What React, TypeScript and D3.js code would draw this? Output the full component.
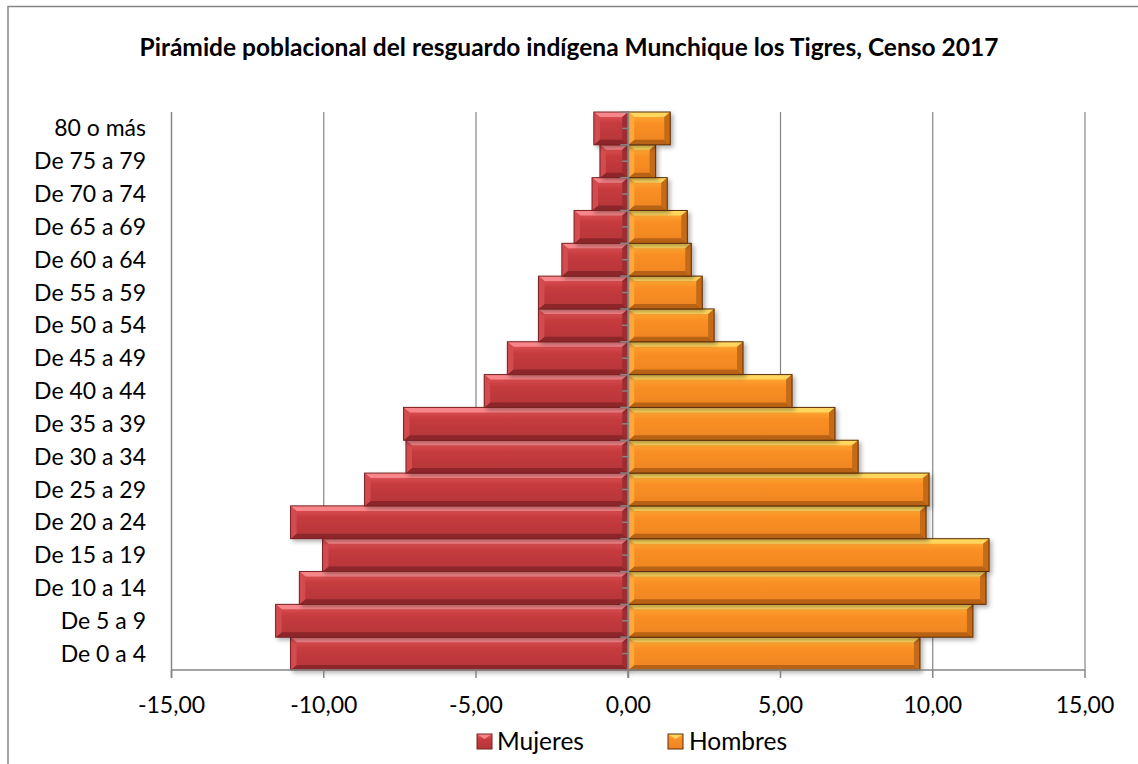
import React from "react";
import * as d3 from "d3";

const categories = [
  "De 0 a 4", "De 5 a 9", "De 10 a 14", "De 15 a 19", "De 20 a 24", "De 25 a 29",
  "De 30 a 34", "De 35 a 39", "De 40 a 44", "De 45 a 49", "De 50 a 54", "De 55 a 59",
  "De 60 a 64", "De 65 a 69", "De 70 a 74", "De 75 a 79", "80 o más",
];
const mujeres = [-11.09, -11.58, -10.8, -10.04, -11.09, -8.66, -7.3, -7.38, -4.73, -3.97, -2.95, -2.95, -2.18, -1.78, -1.19, -0.93, -1.13];
const hombres = [9.58, 11.32, 11.75, 11.85, 9.78, 9.88, 7.55, 6.79, 5.38, 3.77, 2.82, 2.43, 2.07, 1.94, 1.28, 0.9, 1.38];
const xTicks = [-15, -10, -5, 0, 5, 10, 15];
const title = "Pirámide poblacional del resguardo indígena Munchique los Tigres, Censo 2017";

const W = 1138, H = 764;
const L = 171.5, R = 1085, T = 112, B = 670;
const FONT = "Lato, 'Open Sans', sans-serif";
const AXIS = "#868686";

const palettes = {
  red: { face1: "#E4595C", face2: "#C63B3E", face3: "#B43538", top: "#F7868A", bottom: "#8C2729", left: "#D44C4F", right: "#9E2D30", stroke: "#7A2224" },
  orange: { face1: "#FFB238", face2: "#F98F25", face3: "#EE8420", top: "#FFD75E", bottom: "#B86212", left: "#FFA838", right: "#C56A15", stroke: "#5B2E0C" },
};

function Bar({ x0, x1, y0, y1, p, id }: any) {
  const bx = Math.min(6, (x1 - x0) / 2);
  const by = 5;
  const pts = (a: number[][]) => a.map((q) => q.join(",")).join(" ");
  return (
    <g filter="url(#shadow)">
      <rect x={x0} y={y0} width={x1 - x0} height={y1 - y0} fill={`url(#face-${id})`} />
      <polygon points={pts([[x0, y0], [x1, y0], [x1 - bx, y0 + by], [x0 + bx, y0 + by]])} fill={p.top} />
      <polygon points={pts([[x0, y1], [x1, y1], [x1 - bx, y1 - by], [x0 + bx, y1 - by]])} fill={p.bottom} />
      <polygon points={pts([[x0, y0], [x0 + bx, y0 + by], [x0 + bx, y1 - by], [x0, y1]])} fill={p.left} />
      <polygon points={pts([[x1, y0], [x1 - bx, y0 + by], [x1 - bx, y1 - by], [x1, y1]])} fill={p.right} />
      <rect x={x0} y={y0} width={x1 - x0} height={y1 - y0} fill="none" stroke={p.stroke} strokeWidth={1} />
    </g>
  );
}

function LegendSwatch({ x, y, p, id }: any) {
  const s = 15;
  return (
    <g>
      <rect x={x} y={y} width={s} height={s} fill={`url(#face-${id})`} />
      <polygon points={`${x},${y} ${x + s},${y} ${x + s / 2},${y + 5}`} fill={p.top} />
      <rect x={x} y={y} width={s} height={s} fill="none" stroke={p.stroke} strokeWidth={1} />
    </g>
  );
}

export default function App() {
  const x = d3.scaleLinear().domain([-15, 15]).range([L, R]);
  const y = d3.scaleBand<string>().domain([...categories].reverse()).range([T, B]).paddingInner(0).paddingOuter(0);
  const bw = y.bandwidth();
  const fmt = (v: number) => d3.format(".2f")(v).replace(".", ",").replace("−", "-");

  return (
    <svg width={W} height={H} style={{ position: "absolute", left: 0, top: 0, background: "#fff" }}>
      <defs>
        {(["red", "orange"] as const).map((k) => (
          <linearGradient key={k} id={`face-${k}`} x1="0" y1="0" x2="0" y2="1">
            <stop offset="0" stopColor={palettes[k].face1} />
            <stop offset="0.35" stopColor={palettes[k].face2} />
            <stop offset="1" stopColor={palettes[k].face3} />
          </linearGradient>
        ))}
        <filter id="shadow" x="-10%" y="-30%" width="130%" height="180%">
          <feDropShadow dx="2.5" dy="2.5" stdDeviation="2" floodColor="#000" floodOpacity="0.3" />
        </filter>
      </defs>

      <rect x={8} y={6.5} width={1200} height={800} fill="#fff" stroke={AXIS} strokeWidth={1.5} />

      <text x={W / 2} y={56} textAnchor="middle" fontFamily={FONT} fontWeight="bold" fontSize={24.5} fill="#000">
        {title}
      </text>

      {/* gridlines */}
      {xTicks.filter((t) => t !== 0 && t !== -15).map((t) => (
        <line key={t} x1={x(t)} x2={x(t)} y1={T} y2={B} stroke={AXIS} strokeWidth={1.2} />
      ))}

      {/* bars */}
      {categories.map((c, i) => {
        const y0 = y(c)!;
        return (
          <g key={c}>
            <Bar x0={x(mujeres[i])} x1={x(0)} y0={y0} y1={y0 + bw} p={palettes.red} id="red" />
            <Bar x0={x(0)} x1={x(hombres[i])} y0={y0} y1={y0 + bw} p={palettes.orange} id="orange" />
          </g>
        );
      })}

      {/* axes */}
      <line x1={L} x2={L} y1={T} y2={B + 8} stroke={AXIS} strokeWidth={1.5} />
      <line x1={L} x2={R} y1={B} y2={B} stroke={AXIS} strokeWidth={1.5} />
      {xTicks.map((t) => (
        <g key={t}>
          <line x1={x(t)} x2={x(t)} y1={B} y2={B + 8} stroke={AXIS} strokeWidth={1.5} />
          <text x={x(t)} y={713} textAnchor="middle" fontFamily={FONT} fontSize={23} fill="#000">
            {fmt(t)}
          </text>
        </g>
      ))}

      {/* category axis at zero */}
      <line x1={x(0)} x2={x(0)} y1={T} y2={B + 8} stroke={AXIS} strokeWidth={2} />
      {categories.map((c) => {
        const y0 = y(c)!;
        return (
          <g key={c}>
            <line x1={x(0) - 8} x2={x(0)} y1={y0} y2={y0} stroke={AXIS} strokeWidth={1.5} />
            <line x1={x(0) - 6} x2={x(0)} y1={y0 + bw / 2} y2={y0 + bw / 2} stroke={AXIS} strokeWidth={1.5} />
            <text x={146} y={y0 + bw / 2} dy="0.35em" textAnchor="end" fontFamily={FONT} fontSize={23} fill="#000">
              {c}
            </text>
          </g>
        );
      })}

      {/* legend */}
      <LegendSwatch x={477} y={734} p={palettes.red} id="red" />
      <text x={497} y={750} fontFamily={FONT} fontSize={24.5} fill="#000">Mujeres</text>
      <LegendSwatch x={668} y={734} p={palettes.orange} id="orange" />
      <text x={689} y={750} fontFamily={FONT} fontSize={24.5} fill="#000">Hombres</text>
    </svg>
  );
}
